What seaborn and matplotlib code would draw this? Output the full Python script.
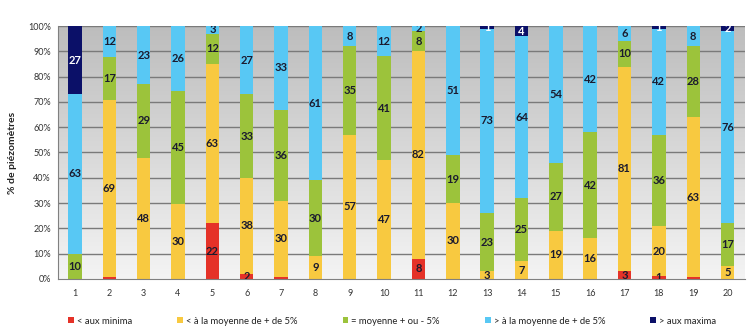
import numpy as np
import pandas as pd
import matplotlib
matplotlib.use("Agg")
import matplotlib.pyplot as plt
from matplotlib.patches import Patch
import seaborn as sns

categories = [str(i) for i in range(1, 21)]
minima   = [0, 0.8, 0, 0, 22, 2, 0.8, 0, 0, 0, 8, 0, 0, 0, 0, 0, 3, 1, 0.8, 0]
sous_moy = [0, 69, 48, 30, 63, 38, 30, 9, 57, 47, 82, 30, 3, 7, 19, 16, 81, 20, 63, 5]
moyenne  = [10, 17, 29, 45, 12, 33, 36, 30, 35, 41, 8, 19, 23, 25, 27, 42, 10, 36, 28, 17]
sur_moy  = [63, 12, 23, 26, 3, 27, 33, 61, 8, 12, 2, 51, 73, 64, 54, 42, 6, 42, 8, 76]
maxima   = [27, 0, 0, 0, 0, 0, 0, 0, 0, 0, 0, 0, 1, 4, 0, 0, 0, 1, 0, 2]

series_names = ["< aux minima", "< à la moyenne de + de 5%", "= moyenne + ou - 5%",
                "> à la moyenne de + de 5%", "> aux maxima"]
series_vals = [minima, sous_moy, moyenne, sur_moy, maxima]
colors = ["#e53228", "#f8c940", "#9cc33b", "#58c8f4", "#0b1068"]
label_colors = ["#1b1b2f", "#1b1b2f", "#1b1b2f", "#1b1b2f", "#ffffff"]

sns.set_style("white")
plt.rcParams['font.family'] = ['Lato', 'DejaVu Sans']

vals = np.array(series_vals, dtype=float)
pct = vals / vals.sum(axis=0) * 100
cum = np.cumsum(pct, axis=0)

fig = plt.figure(figsize=(7.47, 3.34), dpi=100)
ax = fig.add_axes([0.0774, 0.165, 0.9196, 0.757])

# gradient background
grad = np.linspace(0, 1, 256).reshape(-1, 1)
cmap = matplotlib.colors.LinearSegmentedColormap.from_list("bg", ["#f4f4f4", "#bdbdbd"])
ax.imshow(grad, extent=(-0.5, 19.5, 0, 100), origin="lower", aspect="auto",
          cmap=cmap, zorder=0)

for y in range(10, 101, 10):
    ax.axhline(y, color="#7a7a7a", lw=1.0, zorder=1)

for i in range(len(series_vals) - 1, -1, -1):
    df = pd.DataFrame({"cat": categories, "cum": cum[i]})
    sns.barplot(data=df, x="cat", y="cum", color=colors[i], width=0.39,
                saturation=1, ax=ax, zorder=2, linewidth=0, errorbar=None)

for i in range(len(series_vals)):
    for j in range(len(categories)):
        v = vals[i, j]
        if v >= 1:
            yc = cum[i, j] - pct[i, j] / 2
            ax.text(j, yc, f"{int(round(v))}", ha="center", va="center",
                    fontsize=8, fontweight="bold", color=label_colors[i],
                    zorder=4, clip_on=True)

ax.set_xlim(-0.5, 19.5)
ax.set_ylim(0, 100)
ax.set_yticks(range(0, 101, 10))
ax.set_yticklabels([f"{t}%" for t in range(0, 101, 10)], fontsize=6.5, color="#333333")
ax.set_xticks(range(20))
ax.set_xticklabels(categories, fontsize=6.5, color="#333333")
ax.set_xticks(np.arange(-0.5, 20, 1), minor=True)
ax.tick_params(axis="x", which="major", length=0, pad=7)
ax.tick_params(axis="x", which="minor", length=3, color="#808080", direction="out")
ax.tick_params(axis="y", length=3, color="#808080", direction="out", pad=2)
ax.set_xlabel("")
ax.set_ylabel("% de piézomètres", fontsize=7.5, fontweight="bold", color="#222222", labelpad=8)
for s in ["top", "right"]:
    ax.spines[s].set_visible(False)
ax.spines["left"].set_color("#808080")
ax.spines["bottom"].set_color("#808080")
ax.spines["left"].set_linewidth(0.8)
ax.spines["bottom"].set_linewidth(0.8)

handles = [Patch(facecolor=c, edgecolor="none") for c in colors]
fig.legend(handles, series_names, loc="center", bbox_to_anchor=(0.525, 0.038), ncol=5,
           frameon=False, fontsize=6.8, handlelength=0.6, handleheight=0.6,
           handletextpad=0.3, columnspacing=4.8, labelcolor="#222222")

fig.savefig("out.png", dpi=100)
